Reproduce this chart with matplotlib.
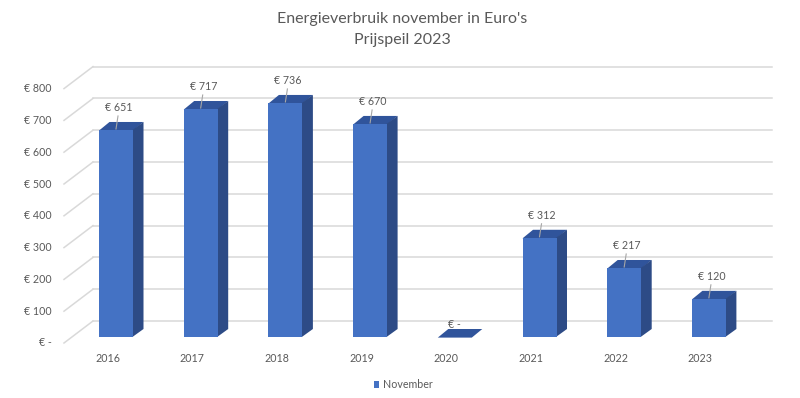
import matplotlib
matplotlib.use('Agg')
import matplotlib.pyplot as plt
from matplotlib.patches import Polygon, Patch

# ---- data ----
years = ['2016', '2017', '2018', '2019', '2020', '2021', '2022', '2023']
values = [651, 717, 736, 670, 0, 312, 217, 120]
value_labels = ['€ 651', '€ 717', '€ 736', '€ 670', '€ -', '€ 312', '€ 217', '€ 120']
ytick_vals = [0, 100, 200, 300, 400, 500, 600, 700, 800]
ytick_labels = ['€ -', '€ 100', '€ 200', '€ 300', '€ 400', '€ 500', '€ 600', '€ 700', '€ 800']
series_name = 'November'
title_line1 = "Energieverbruik november in Euro's"
title_line2 = 'Prijspeil 2023'

# ---- style ----
plt.rcParams['font.family'] = ['Lato', 'DejaVu Sans']
TXT = '#595959'
GRID = '#D9D9D9'
FRONT = '#4472C4'
SIDE = '#2D4B86'
TOP = '#30549B'

W, H = 800, 398
fig = plt.figure(figsize=(W / 100, H / 100), dpi=100)
ax = fig.add_axes([0, 0, 1, 1])

# pixel geometry of the pseudo-3D scene (bar front plane)
X0, Y0 = 116.0, 337.0          # pixel position of category 0 / value 0
SX = 84.7                      # px per category
SY = 254.4 / 800               # px per value unit
ax.set_xlim(-X0 / SX, (W - X0) / SX)
ax.set_ylim(-(H - Y0) / SY, Y0 / SY)
ax.axis('off')


def px(d):
    return d / SX


def py(d):
    return d / SY


# walls: gridlines on back wall and side wall
xb_left, xb_right, xf_left = px(93 - X0), px(772 - X0), px(64 - X0)
back_dy, front_dy = py(16), py(-6)
for v in ytick_vals:
    ax.plot([xb_left, xb_right], [v + back_dy, v + back_dy], color=GRID, lw=1.1, zorder=1)
    ax.plot([xf_left, xb_left], [v + front_dy, v + back_dy], color=GRID, lw=1.1, zorder=1)

# y tick labels (front plane)
for v, lab in zip(ytick_vals, ytick_labels):
    ax.text(px(52 - X0), v + front_dy, lab, ha='right', va='center',
            fontsize=7.7, color=TXT)

# bars
xs = list(range(len(years)))
bw = px(34)
ddx, ddy = px(10.5), py(8)
ov = px(0.6)
for x, v in zip(xs, values):
    l, r = x - bw / 2, x + bw / 2
    top = Polygon([(l, v - py(0.6)), (r, v - py(0.6)), (r + ddx, v + ddy), (l + ddx, v + ddy)],
                  closed=True, facecolor=TOP, edgecolor='none', zorder=3)
    side = Polygon([(r - ov, 0), (r + ddx, ddy), (r + ddx, v + ddy), (r - ov, v)],
                   closed=True, facecolor=SIDE, edgecolor='none', zorder=3)
    ax.add_patch(top)
    ax.add_patch(side)
bars = ax.bar(xs, values, width=bw, color=FRONT, zorder=3.5, linewidth=0)

# data labels with leader lines
for x, v, lab in zip(xs, values, value_labels):
    if v > 0:
        ax.plot([x, x + px(2)], [v + py(1), v + py(14)], color='#A6A6A6', lw=0.8, zorder=4)
        ax.text(x + px(2.5), v + py(22), lab, ha='center', va='center',
                fontsize=7.7, color=TXT, zorder=5)
    else:
        ax.text(x, v + py(12), lab, ha='center', va='center',
                fontsize=7.7, color=TXT, zorder=5)

# category labels (front floor)
for x, y in zip(xs, years):
    ax.text(x - px(8.5), py(-21), y, ha='center', va='center', fontsize=7.7, color=TXT)

# title
fig.text(402 / W, 1 - 19 / H, title_line1, ha='center', va='center', fontsize=11.5, color=TXT)
fig.text(402 / W, 1 - 40 / H, title_line2, ha='center', va='center', fontsize=11.5, color=TXT)

# legend
handles = [Patch(facecolor=FRONT, edgecolor='none', label=series_name)]
fig.legend(handles=handles, loc='center', bbox_to_anchor=(403 / W, 1 - 385 / H),
           frameon=False, fontsize=7.7, handlelength=0.55, handleheight=0.55,
           handletextpad=0.3, labelcolor=TXT, borderpad=0)

fig.savefig('out.png', dpi=100)
